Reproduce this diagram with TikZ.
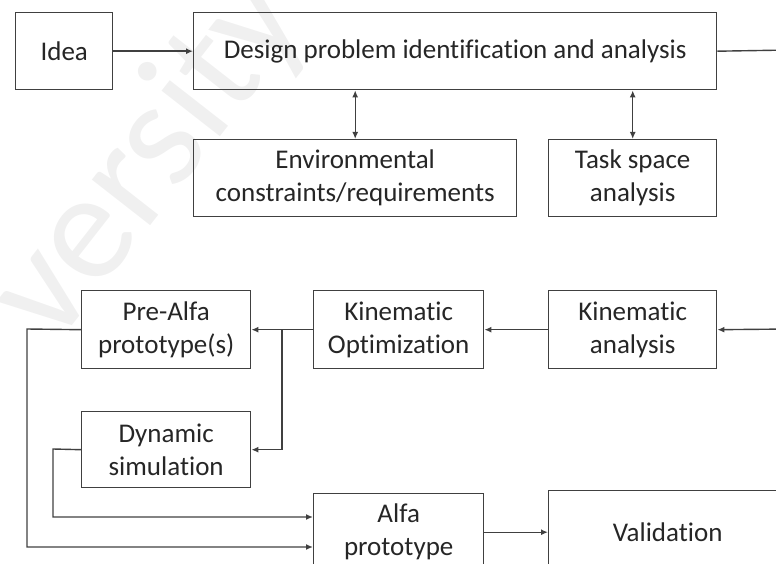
\documentclass[tikz,border=0pt]{standalone}
\usepackage{fontspec}
\setmainfont{Carlito}[RawFeature={-liga;-clig;-calt;-dlig}]
\usetikzlibrary{arrows.meta,calc}
\newcommand{\tiX}{t\kern0pt i}
\begin{document}
\begin{tikzpicture}[x=1pt,y=-1pt,
  box/.style={draw=black!75, line width=1.4pt, anchor=north west, inner sep=0pt,
    align=center, text=black!85, font=\fontsize{27}{33}\selectfont},
  conn/.style={draw=black!75, line width=1.4pt, line join=miter},
  arr/.style={conn, -{Latex[length=7pt,width=6pt]}},
  darr/.style={conn, {Latex[length=7pt,width=6pt]}-{Latex[length=7pt,width=6pt]}},
  wm/.style={text=black!6, font=\fontsize{155}{155}\selectfont}]
\useasboundingbox (0,0) rectangle (776,564);
\clip (0,0) rectangle (776,564);
% watermark
\node[wm, rotate=52] (wmark) at (150,160) {versity};
% boxes
\node[box, minimum width=97pt, minimum height=77pt] (idea) at (15,12) {Idea};
\node[box, minimum width=523pt, minimum height=77pt] (design) at (193,12) {Design problem iden\tiX fica\tiX on and analysis};
\node[box, minimum width=323pt, minimum height=77pt] (env) at (193,139) {Environmental\\constraints/requirements};
\node[box, minimum width=168pt, minimum height=77pt] (task) at (548,139) {Task space\\analysis};
\node[box, minimum width=169pt, minimum height=78pt] (pre) at (81,290) {Pre-Alfa\\prototype(s)};
\node[box, minimum width=170pt, minimum height=78pt] (kopt) at (313,290) {Kinema\tiX c\\Op\tiX miza\tiX on};
\node[box, minimum width=168pt, minimum height=78pt] (kan) at (548,290) {Kinema\tiX c\\analysis};
\node[box, minimum width=169pt, minimum height=76pt] (dyn) at (81,411) {Dynamic\\simula\tiX on};
\node[box, minimum width=170pt, minimum height=77pt] (alfa) at (313,493) {Alfa\\prototype};
\node[box, minimum width=238pt, minimum height=84pt] (valid) at (548,490) {Valida\tiX on};
% free ends and corners
\coordinate (outR) at (790,50);
\coordinate (inR) at (790,329);
\coordinate (br) at (282,329);
\coordinate (c1) at (27,329);
\coordinate (c2) at (53,449);
\coordinate (a1) at (313,547);
\coordinate (a2) at (313,517);
% connectors
\draw[arr] (idea.east) -- (design.west);
\draw[conn] (design.east) -- (outR);
\draw[darr] (design.south -| env.north) -- (env.north);
\draw[darr] (design.south -| task.north) -- (task.north);
\draw[arr] (inR) -- (kan.east);
\draw[arr] (kan.west) -- (kopt.east);
\draw[arr] (kopt.west) -- (pre.east);
\draw[arr] (br) |- (dyn.east);
\draw[arr] (pre.west) -- (c1) |- (a1);
\draw[arr] (dyn.west) -- (c2) |- (a2);
\draw[arr] (alfa.east) -- (alfa.east -| valid.west);
\end{tikzpicture}
\end{document}
